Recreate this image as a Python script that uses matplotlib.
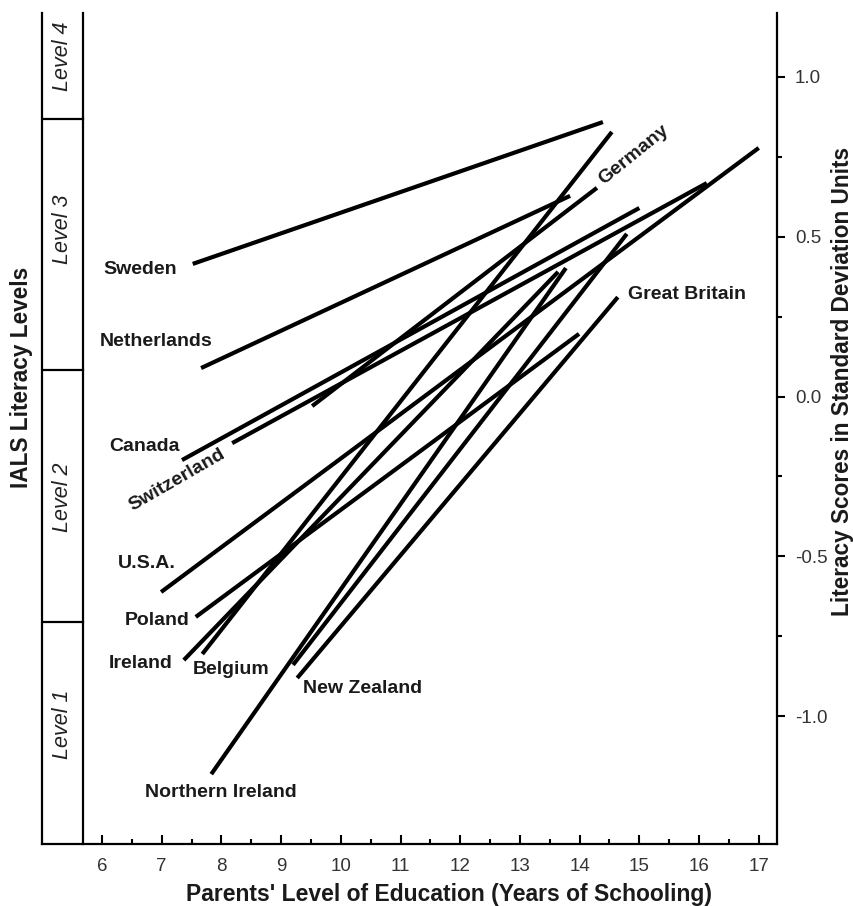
import numpy as np
import matplotlib
matplotlib.use('Agg')
import matplotlib.pyplot as plt

plt.rcParams['font.family'] = ['Liberation Sans', 'DejaVu Sans']

# Länder und Endpunkte der Regressionslinien (Jahre, SD-Einheiten)
countries = ['Sweden', 'Netherlands', 'Germany', 'Canada', 'Switzerland', 'U.S.A.',
             'Poland', 'Ireland', 'Belgium', 'New Zealand', 'Great Britain',
             'Northern Ireland']
x_start = [7.52, 7.66, 9.52, 7.34, 8.18, 6.99, 7.57, 7.37, 7.68, 9.20, 9.27, 7.83]
x_end = [14.39, 13.84, 14.29, 15.00, 16.13, 17.00, 13.99, 13.64, 14.54, 14.79, 14.64, 13.77]
y_start = [0.415, 0.089, -0.030, -0.199, -0.146, -0.612, -0.690, -0.825, -0.806, -0.840, -0.881, -1.182]
y_end = [0.859, 0.628, 0.653, 0.590, 0.668, 0.778, 0.196, 0.390, 0.828, 0.509, 0.311, 0.402]

levels = ['Level 1', 'Level 2', 'Level 3', 'Level 4']
level_bounds = [-0.706, 0.083, 0.869]
level_label_y = [-1.025, -0.315, 0.524, 1.066]

y_ticks = [-1.0, -0.5, 0.0, 0.5, 1.0]
y_minor = [-0.75, -0.25, 0.25, 0.75]
x_ticks = list(range(6, 18))

# Beschriftungen: (x, y, ha, rotation)
label_pos = {
    'Sweden': (7.256, 0.399, 'right', 0),
    'Netherlands': (7.859, 0.171, 'right', 0),
    'Canada': (7.307, -0.158, 'right', 0),
    'Switzerland': (7.256, -0.261, 'center', 30),
    'U.S.A.': (7.24, -0.524, 'right', 0),
    'Poland': (7.474, -0.700, 'right', 0),
    'Ireland': (7.189, -0.837, 'right', 0),
    'Belgium': (7.524, -0.853, 'left', 0),
    'Northern Ireland': (6.72, -1.238, 'left', 0),
    'New Zealand': (9.367, -0.915, 'left', 0),
    'Great Britain': (14.81, 0.318, 'left', 0),
    'Germany': (14.91, 0.756, 'center', 39),
}

W, H = 854, 906
fig = plt.figure(figsize=(W / 100, H / 100), dpi=100)
ax = fig.add_axes([42 / W, 1 - 844 / H, (777 - 42) / W, (844 - 13) / H])

x_left, x_band = 4.995, 5.682
ax.set_xlim(x_left, 17.306)
ax.set_ylim(-1.4006, 1.2003)

for i, c in enumerate(countries):
    ax.plot([x_start[i], x_end[i]], [y_start[i], y_end[i]], color='black',
            lw=3.0, solid_capstyle='butt')
    lx, ly, ha, rot = label_pos[c]
    ax.text(lx, ly, c, ha=ha, va='center', rotation=rot, rotation_mode='anchor',
            fontsize=14, fontweight='bold', color='#1a1a1a')

# Stufenband links
ax.plot([x_band, x_band], [-1.4006, 1.2003], color='black', lw=1.6, clip_on=False)
for b in level_bounds:
    ax.plot([x_left, x_band], [b, b], color='black', lw=1.6)
for lev, ly in zip(levels, level_label_y):
    ax.text((x_left + x_band) / 2, ly, lev, rotation=90, ha='center', va='center',
            fontsize=15.5, fontstyle='italic', color='#222222')

ax.spines['top'].set_visible(False)
for s in ['left', 'right', 'bottom']:
    ax.spines[s].set_linewidth(1.6)

ax.set_xticks(x_ticks)
ax.set_xticklabels([str(t) for t in x_ticks])
ax.set_xticks(np.arange(6.5, 17, 1), minor=True)
ax.tick_params(axis='x', which='major', direction='in', length=6.5, width=1.5,
               labelsize=13.5, pad=10, labelcolor='#333333')
ax.tick_params(axis='x', which='minor', direction='in', length=3.6, width=1.5)

ax.yaxis.tick_right()
ax.set_yticks(y_ticks)
ax.set_yticklabels(['%.1f' % t for t in y_ticks])
ax.set_yticks(y_minor, minor=True)
ax.tick_params(axis='y', which='major', direction='out', length=5.8, width=1.5,
               labelsize=13.5, pad=7, labelcolor='#333333')
ax.tick_params(axis='y', which='minor', direction='out', length=3.6, width=1.5)

fig.text(22 / W, 1 - 377 / H, 'IALS Literacy Levels', rotation=90, ha='center',
         va='center', fontsize=16.3, fontweight='bold', color='#1a1a1a')
fig.text(843 / W, 1 - 382 / H, 'Literacy Scores in Standard Deviation Units',
         rotation=90, ha='center', va='center', fontsize=16.3, fontweight='bold',
         color='#1a1a1a')
fig.text(449 / W, 1 - 894 / H, "Parents' Level of Education (Years of Schooling)",
         ha='center', va='center', fontsize=16.5, fontweight='bold', color='#1a1a1a')

fig.savefig('out.png', dpi=100, facecolor='white')
